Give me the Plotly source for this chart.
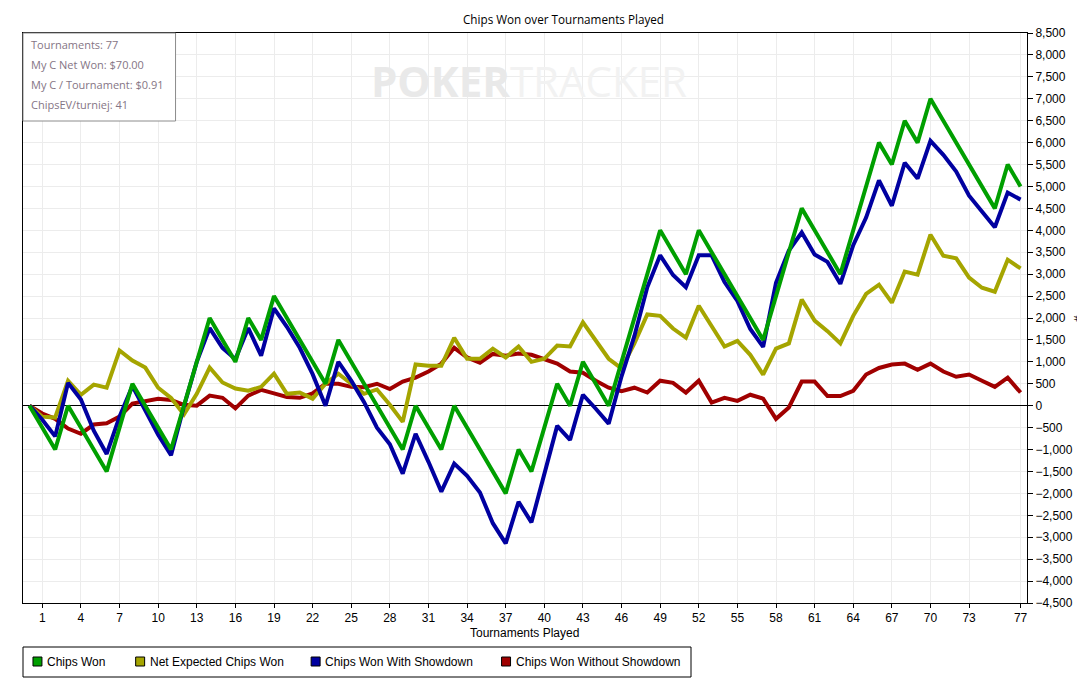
import plotly.graph_objects as go

# ---------------- data ----------------
tournaments = list(range(0, 78))

chips_won = [0, -500, -1000, 0, -500, -1000, -1500, -500, 500, 0,
             -500, -1000, 0, 1000, 2000, 1500, 1000, 2000, 1500, 2500,
             2000, 1500, 1000, 500, 1500, 1000, 500, 0, -500, -1000,
             0, -500, -1000, 0, -500, -1000, -1500, -2000, -1000, -1500,
             -500, 500, 0, 1000, 500, 0, 1000, 2000, 3000, 4000,
             3500, 3000, 4000, 3500, 3000, 2500, 2000, 1500, 2500, 3500,
             4500, 4000, 3500, 3000, 4000, 5000, 6000, 5500, 6500, 6000,
             7000, 6500, 6000, 5500, 5000, 4500, 5500, 5000]

net_expected = [0, -250, -270, 570, 250, 480, 410, 1260, 1030, 870,
                410, 180, -200, 270, 870, 530, 390, 340, 430, 730,
                270, 300, 160, 500, 730, 500, 270, 370, 20, -370,
                940, 910, 910, 1550, 1070, 1070, 1300, 1100, 1350, 1000,
                1070, 1370, 1350, 1900, 1480, 1070, 850, 1420, 2080, 2050,
                1760, 1550, 2280, 1800, 1350, 1480, 1160, 710, 1300, 1420,
                2420, 1940, 1700, 1420, 2050, 2550, 2760, 2350, 3060, 2990,
                3900, 3420, 3360, 2920, 2690, 2600, 3330, 3130]

with_showdown = [0, -320, -700, 520, 140, -570, -1100, -250, 450, -110,
                 -660, -1130, -20, 1000, 1770, 1320, 1060, 1770, 1140, 2220,
                 1800, 1320, 720, 0, 1000, 570, 80, -500, -880, -1550,
                 -640, -1280, -1960, -1320, -1600, -1980, -2680, -3140, -2190, -2660,
                 -1570, -460, -780, 250, -70, -410, 670, 1590, 2700, 3430,
                 2980, 2700, 3430, 3430, 2820, 2390, 1750, 1340, 2800, 3540,
                 3950, 3450, 3280, 2780, 3660, 4290, 5140, 4560, 5540, 5180,
                 6040, 5720, 5340, 4790, 4430, 4070, 4860, 4700]

without_showdown = [0, -180, -300, -520, -640, -430, -400, -250, 50, 110,
                    160, 130, 20, 0, 230, 180, -60, 230, 360, 280,
                    200, 180, 280, 500, 500, 430, 420, 500, 380, 550,
                    640, 780, 960, 1320, 1100, 980, 1180, 1140, 1190, 1160,
                    1070, 960, 780, 750, 570, 410, 330, 410, 300, 570,
                    520, 300, 570, 70, 180, 110, 250, 160, -300, -40,
                    550, 550, 220, 220, 340, 710, 860, 940, 960, 820,
                    960, 780, 660, 710, 570, 430, 640, 300]

x_ticks = [1, 4, 7, 10, 13, 16, 19, 22, 25, 28, 31, 34, 37, 40, 43, 46, 49,
           52, 55, 58, 61, 64, 67, 70, 73, 77]

series_names = ["Chips Won", "Net Expected Chips Won",
                "Chips Won With Showdown", "Chips Won Without Showdown"]
series_colors = ["#009f00", "#a5a500", "#0000a0", "#a00000"]

info_lines = ["Tournaments: 77", "My C Net Won: $70.00",
              "My C / Tournament: $0.91", "ChipsEV/turniej: 41"]

# ---------------- layout geometry (page pixels) ----------------
OFF = 8                      # default body margin of the html page
PAGE_W, PAGE_H = 1085, 686
W, H = PAGE_W - OFF, PAGE_H - OFF
PL, PR, PT, PB = 23, 1030, 33, 603   # plot area in page pixels
PW, PH = PR - PL, PB - PT


def px(xp):
    return (xp - PL) / PW


def py(yp):
    return (PB - yp) / PH


FONT = "Liberation Sans, Arial, sans-serif"

fig = go.Figure()
values = [chips_won, net_expected, with_showdown, without_showdown]
order = [3, 1, 2, 0]
for i in order:
    fig.add_trace(go.Scatter(
        x=tournaments, y=values[i], mode="lines", name=series_names[i],
        line=dict(color=series_colors[i], width=4), showlegend=False,
        hoverinfo="x+y+name"))

shapes = []
annotations = []

# title (as annotation so it can sit right under the page edge)
annotations.append(dict(text="Chips Won over Tournaments Played", xref="paper", yref="paper",
                        x=px(565), y=py(9), xanchor="center", yanchor="top",
                        showarrow=False,
                        font=dict(family="Open Sans, Noto Sans, sans-serif",
                                  size=11.7, color="black")))

# info box
shapes.append(dict(type="rect", xref="paper", yref="paper",
                   x0=px(23), x1=px(176), y0=py(121), y1=py(33),
                   line=dict(color="#8c8c8c", width=1), fillcolor="white",
                   layer="above"))
for t, yc in zip(info_lines, [45, 65, 85, 104]):
    annotations.append(dict(text=t, xref="paper", yref="paper",
                            x=px(29), y=py(yc), xanchor="left", yanchor="middle",
                            showarrow=False,
                            font=dict(family="Open Sans, Noto Sans, sans-serif",
                                      size=11, color="#857585")))

# watermark
annotations.append(dict(
    text="<b><span style='color:#e9e9e9'>POKER</span></b><span style='color:#f2f2f2'>TRACKER</span>",
    xref="paper", yref="paper", x=px(531), y=py(80), xanchor="center", yanchor="middle",
    showarrow=False, font=dict(family="Open Sans, sans-serif", size=42, color="#eeeeee")))

# axis titles
annotations.append(dict(text="Tournaments Played", xref="paper", yref="paper",
                        x=px(526), y=py(633), xanchor="center", yanchor="middle",
                        showarrow=False, font=dict(family=FONT, size=12, color="black")))
annotations.append(dict(text="#", xref="paper", yref="paper",
                        x=px(1081), y=py(318), xanchor="center", yanchor="middle",
                        textangle=-90, showarrow=False,
                        font=dict(family=FONT, size=11, color="black")))

# legend (manual)
shapes.append(dict(type="rect", xref="paper", yref="paper",
                   x0=px(23), x1=px(693), y0=py(677), y1=py(647),
                   line=dict(color="black", width=1), fillcolor="white"))
sq_x = [33, 136, 312, 503]
txt_x = [45, 148, 324, 515]
for i in range(4):
    shapes.append(dict(type="rect", xref="paper", yref="paper",
                       x0=px(sq_x[i]), x1=px(sq_x[i] + 9), y0=py(666), y1=py(657),
                       line=dict(color="black", width=1), fillcolor=series_colors[i]))
    annotations.append(dict(text=series_names[i], xref="paper", yref="paper",
                            x=px(txt_x[i]), y=py(661.5), xanchor="left", yanchor="middle",
                            showarrow=False, font=dict(family=FONT, size=12, color="black")))

fig.update_layout(
    width=W, height=H,
    margin=dict(l=PL - OFF, r=W - (PR - OFF), t=PT - OFF, b=H - (PB - OFF), pad=0),
    paper_bgcolor="white", plot_bgcolor="white",
    font=dict(family=FONT, size=12, color="black"),
    shapes=shapes, annotations=annotations,
    showlegend=False,
    xaxis=dict(range=[-0.5, 77.5], tickmode="array", tickvals=x_ticks,
               showgrid=True, gridcolor="#ececec", gridwidth=1,
               showline=True, linecolor="black", linewidth=1, mirror=True,
               ticks="outside", ticklen=4, tickcolor="black",
               tickfont=dict(family=FONT, size=12, color="black"),
               zeroline=False, fixedrange=True),
    yaxis=dict(range=[-4500, 8500], dtick=500, tick0=0, side="right",
               tickformat=",d",
               showgrid=True, gridcolor="#ececec", gridwidth=1,
               showline=True, linecolor="black", linewidth=1, mirror=True,
               ticks="outside", ticklen=5, tickcolor="black",
               tickfont=dict(family=FONT, size=12, color="black"),
               zeroline=True, zerolinecolor="black", zerolinewidth=1,
               fixedrange=True),
)

fig.write_html("out.html")
